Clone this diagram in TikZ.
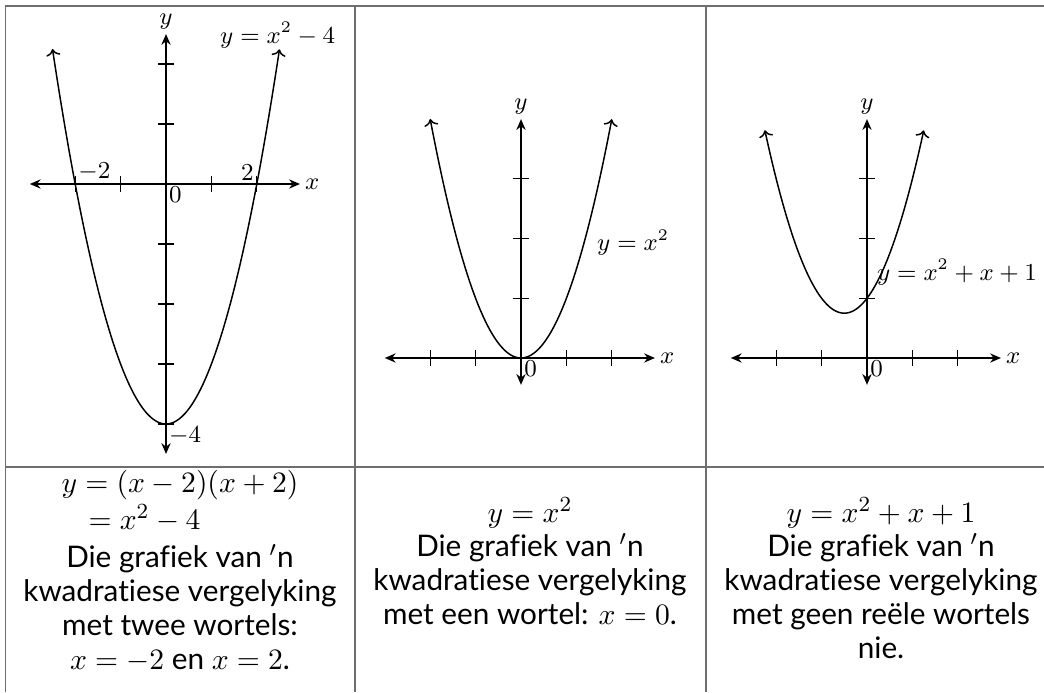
\documentclass[tikz,border=0pt]{standalone}
\usepackage{fontspec}
\setmainfont{Lato}[Ligatures={NoCommon}]
\usetikzlibrary{arrows.meta}
\definecolor{qgInk}{HTML}{000000}
\definecolor{qgRule}{HTML}{6E6E6E}
\tikzset{
  qg rule/.style={draw=qgRule, line width=.55pt},
  qg axis/.style={
    draw=qgInk,
    line width=.8pt,
    {Stealth[length=4pt,width=3.4pt]}-{Stealth[length=4pt,width=3.4pt]}
  },
  qg curve/.style={
    draw=qgInk,
    line width=.55pt,
    {To[length=2.5pt]}-{To[length=2.5pt]},
    samples=80, smooth
  },
  qg tick/.style={draw=qgInk, line width=.4pt},
  qg label/.style={font=\fontsize{9}{11}\selectfont, inner sep=1.5pt},
  qg tick label/.style={font=\fontsize{9}{11}\selectfont, inner sep=1pt},
  qg cell/.style={align=center, font=\fontsize{11}{12.6}\selectfont, inner sep=0pt}
}

\begin{document}
\begin{tikzpicture}[x=.37pt,y=.37pt]
  \useasboundingbox (0,0) rectangle (1044,692);

  % table rules
  \draw[qg rule] (1044,686) -- (5.5,686) -- (5.5,0);
  \draw[qg rule] (5.5,225) -- (1044,225);
  \foreach \cx in {355,706}
    \draw[qg rule] (\cx,686) -- (\cx,0);

  % y = x^2 - 4
  \begin{scope}[shift={(166,508)},x=16.8pt,y=22.2pt]
    \draw[qg axis] (-3,0) -- (2.95,0) node[right, qg label] (xA) {$x$};
    \draw[qg axis] (0,-4.5) -- (0,2.5) node[above, qg label] (yA) {$y$};
    \foreach \t in {-2,-1,1,2}
      \draw[qg tick] ([yshift=-3pt]\t,0) -- ([yshift=3pt]\t,0);
    \foreach \t in {-4,...,-1,1,2}
      \draw[qg tick] ([xshift=-3pt]0,\t) -- ([xshift=3pt]0,\t);
    \draw[qg curve, domain=-2.5:2.5] plot (\x,{\x*\x-4});
    \node[qg tick label, above right] (rootA1) at (-2,0) {$-2$};
    \node[qg tick label, above left] (rootA2) at (2,0) {$2$};
    \node[qg tick label, below right] (oA) at (0,0) {$0$};
    \node[qg tick label, below right] (cutA) at (0,-4) {$-4$};
    \node[qg label] (eqA) at (2.46,2.48) {$y=x^2-4$};
  \end{scope}

  % y = x^2
  \begin{scope}[shift={(521,334)},x=16.8pt,y=22.1pt]
    \draw[qg axis] (-3,0) -- (2.95,0) node[right, qg label] (xB) {$x$};
    \draw[qg axis] (0,-.45) -- (0,4) node[above, qg label] (yB) {$y$};
    \foreach \t in {-2,-1,1,2}
      \draw[qg tick] ([yshift=-3pt]\t,0) -- ([yshift=3pt]\t,0);
    \foreach \t in {1,2,3}
      \draw[qg tick] ([xshift=-3pt]0,\t) -- ([xshift=3pt]0,\t);
    \draw[qg curve, domain=-2:2] plot (\x,{\x*\x});
    \node[qg tick label, below right] (oB) at (0,0) {$0$};
    \node[qg label] (eqB) at (2.47,1.93) {$y=x^2$};
  \end{scope}

  % y = x^2 + x + 1
  \begin{scope}[shift={(867,334)},x=16.8pt,y=22.1pt]
    \draw[qg axis] (-3,0) -- (2.95,0) node[right, qg label] (xC) {$x$};
    \draw[qg axis] (0,-.45) -- (0,4) node[above, qg label] (yC) {$y$};
    \foreach \t in {-2,-1,1,2}
      \draw[qg tick] ([yshift=-3pt]\t,0) -- ([yshift=3pt]\t,0);
    \foreach \t in {1,2,3}
      \draw[qg tick] ([xshift=-3pt]0,\t) -- ([xshift=3pt]0,\t);
    \draw[qg curve, domain=-2.25:1.25] plot (\x,{\x*\x+\x+1});
    \node[qg tick label, below right] (oC) at (0,0) {$0$};
    \node[qg label] (eqC) at (1.98,1.44) {$y=x^2+x+1$};
  \end{scope}

  % bottom row
  \node[qg cell] (eqL) at (180,207) {$y=(x-2)(x+2)$};
  \node[qg cell, anchor=west] (eqL2) at (88,174) {$=x^2-4$};
  \node[qg cell] (txtL) at (180,84) {Die grafiek van $'$n\\kwadratiese vergelyking\\met twee wortels:\\$x=-2$ en $x=2$.};
  \node[qg cell] (txtM) at (530,131) {$y=x^2$\\Die grafiek van $'$n\\kwadratiese vergelyking\\met een wortel: $x=0$.};
  \node[qg cell] (txtR) at (881,114) {$y=x^2+x+1$\\Die grafiek van $'$n\\kwadratiese vergelyking\\met geen reële wortels\\nie.};
\end{tikzpicture}
\end{document}
